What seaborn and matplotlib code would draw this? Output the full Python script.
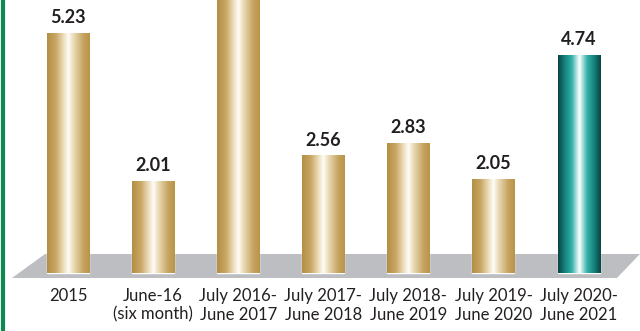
import numpy as np
import pandas as pd
import matplotlib
matplotlib.use("Agg")
import matplotlib.pyplot as plt
from matplotlib.colors import LinearSegmentedColormap
from matplotlib.patches import Polygon
import seaborn as sns

categories = ["2015", "June-16\n(six month)", "July 2016-\nJune 2017", "July 2017-\nJune 2018",
              "July 2018-\nJune 2019", "July 2019-\nJune 2020", "July 2020-\nJune 2021"]
values = [5.23, 2.01, 6.5, 2.56, 2.83, 2.05, 4.74]
labels = ["5.23", "2.01", "", "2.56", "2.83", "2.05", "4.74"]
kinds = ["gold", "gold", "gold", "gold", "gold", "gold", "teal"]

sns.set_theme(style="white")
plt.rcParams['font.family'] = ['Lato', 'DejaVu Sans']

df = pd.DataFrame({"cat": categories, "val": values, "kind": kinds})

fig = plt.figure(figsize=(6.4, 3.31), dpi=100)
ax = fig.add_axes([0, 0, 1, 1])

sns.barplot(data=df, x="cat", y="val", hue="kind",
            palette={"gold": "#c4a25c", "teal": "#1a8f89"},
            width=0.494, dodge=False, legend=False, ax=ax, zorder=3)

gold_cmap = LinearSegmentedColormap.from_list("gold", [
    (0.0, "#b38f45"), (0.2, "#c8a562"), (0.38, "#ecdcb9"), (0.5, "#fffdf8"),
    (0.62, "#eadab6"), (0.85, "#c6a35f"), (1.0, "#b89449")])
teal_cmap = LinearSegmentedColormap.from_list("teal", [
    (0.0, "#0a4342"), (0.15, "#147f7a"), (0.32, "#33b0a9"), (0.5, "#ffffff"),
    (0.68, "#33b0a9"), (0.85, "#147f7a"), (1.0, "#0a4342")])
grad = np.linspace(0, 1, 256).reshape(1, -1)

for patch, kind in zip(ax.patches, kinds):
    x, y = patch.get_x(), patch.get_y()
    w, h = patch.get_width(), patch.get_height()
    cmap = gold_cmap if kind == "gold" else teal_cmap
    im = ax.imshow(grad, cmap=cmap, extent=[x, x + w, y, y + h],
                   aspect="auto", zorder=4, interpolation="bilinear")
    im.set_clip_path(patch)

for i, (v, lab) in enumerate(zip(values, labels)):
    if lab:
        ax.annotate(lab, (i, v), xytext=(0, 5), textcoords="offset points",
                    ha="center", va="bottom", fontsize=13, fontweight="bold",
                    color="#231f20", zorder=6)

# floor
floor = Polygon([(-0.658, -0.109), (6.451, -0.109), (6.722, 0.414), (-0.270, 0.414)],
                closed=True, facecolor="#bdbec1", edgecolor="none", zorder=1)
ax.add_patch(floor)

# category labels
for i, c in enumerate(categories):
    ax.text(i, -0.33, c, ha="center", va="top", fontsize=12, color="#231f20",
            linespacing=1.2)

ax.set_xlim(-0.799, 6.722)
ax.set_ylim(-1.264, 5.948)
ax.set_xticks([])
ax.set_yticks([])
ax.set_xlabel("")
ax.set_ylabel("")
for s in ax.spines.values():
    s.set_visible(False)

# green line at left
ax.axvline(-0.799 + 3.5 / 85.1, color="#0f8a4e", lw=3, zorder=7)

fig.savefig("out.png", dpi=100)
